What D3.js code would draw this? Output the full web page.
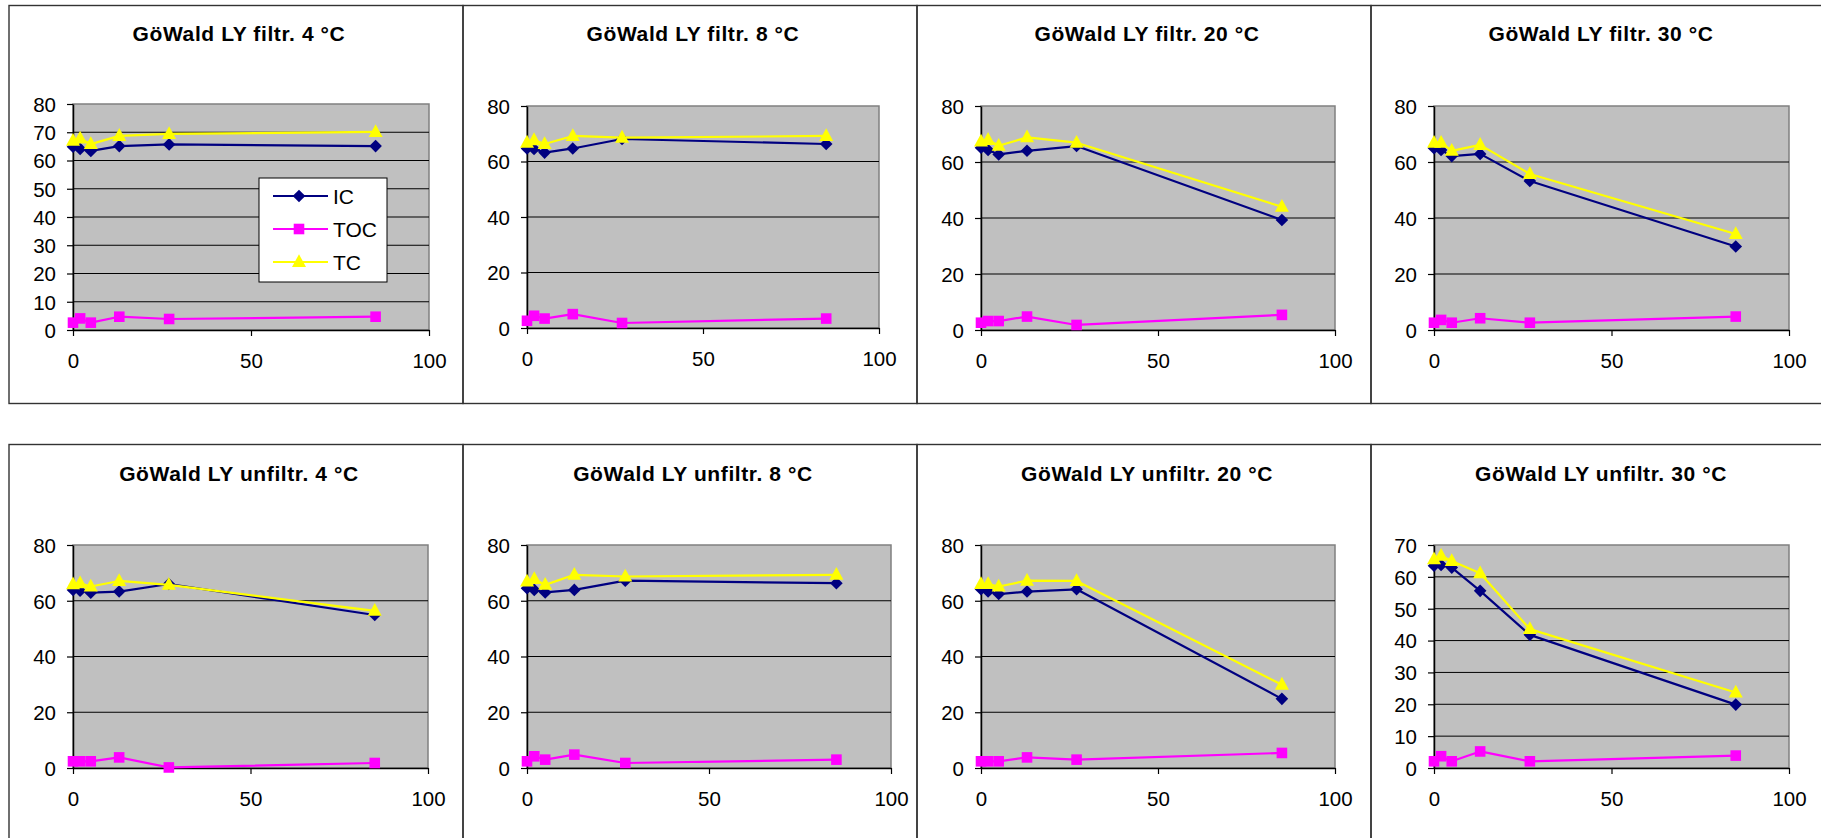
<!DOCTYPE html>
<html>
<head>
<meta charset="utf-8">
<script src="https://cdn.jsdelivr.net/npm/d3@7"></script>
<style>
  html, body { margin: 0; padding: 0; background: #ffffff; }
  svg { display: block; }
  text { font-family: "Liberation Sans", Arial, Helvetica, sans-serif; }
</style>
</head>
<body>
<svg id="chart" width="1821" height="838"></svg>
<script>
// Sampling days (x axis)
const days = [0, 2, 5, 13, 27, 85];

// Series names and colours
const seriesNames = ["IC", "TOC", "TC"];
const seriesColors = ["#000080", "#FF00FF", "#FFFF00"];

// Panel titles
const titles = [
  "GöWald LY filtr. 4 °C", "GöWald LY filtr. 8 °C", "GöWald LY filtr. 20 °C", "GöWald LY filtr. 30 °C",
  "GöWald LY unfiltr. 4 °C", "GöWald LY unfiltr. 8 °C", "GöWald LY unfiltr. 20 °C", "GöWald LY unfiltr. 30 °C"
];

// Y axis range and tick step per panel
const yMaxes = [80, 80, 80, 80, 80, 80, 80, 70];
const yTickSteps = [10, 20, 20, 20, 20, 20, 20, 10];
const xTicks = [0, 50, 100];

// Filtered samples
const icFiltr4  = [64.9, 64.1, 63.4, 65.1, 65.7, 65.1];
const tocFiltr4 = [2.6, 4.1, 2.6, 4.7, 3.9, 4.7];
const tcFiltr4  = [67.0, 67.8, 65.8, 68.7, 69.4, 70.1];

const icFiltr8  = [64.7, 64.5, 63.2, 64.7, 68.1, 66.3];
const tocFiltr8 = [2.6, 4.4, 3.4, 5.0, 1.8, 3.4];
const tcFiltr8  = [66.8, 67.7, 66.3, 69.2, 68.6, 69.2];

const icFiltr20  = [65.1, 64.3, 62.7, 64.0, 65.7, 39.3];
const tocFiltr20 = [2.6, 3.2, 3.2, 4.8, 1.8, 5.4];
const tcFiltr20  = [67.3, 67.9, 65.8, 68.8, 66.9, 44.0];

const icFiltr30  = [64.9, 64.3, 62.1, 62.9, 53.2, 29.8];
const tocFiltr30 = [2.6, 3.6, 2.6, 4.2, 2.6, 4.8];
const tcFiltr30  = [66.9, 66.9, 64.0, 66.1, 55.7, 34.3];

// Unfiltered samples
const icUnfiltr4  = [63.9, 63.6, 62.9, 63.3, 66.0, 54.9];
const tocUnfiltr4 = [2.4, 2.4, 2.4, 3.8, 0.2, 1.8];
const tcUnfiltr4  = [65.9, 66.3, 65.1, 67.1, 65.7, 56.4];

const icUnfiltr8  = [64.5, 63.9, 63.0, 63.9, 67.2, 66.3];
const tocUnfiltr8 = [2.4, 4.2, 3.0, 4.8, 1.8, 3.0];
const tcUnfiltr8  = [66.9, 67.8, 65.7, 69.3, 68.7, 69.3];

const icUnfiltr20  = [64.1, 63.3, 62.4, 63.3, 64.1, 24.8];
const tocUnfiltr20 = [2.4, 2.4, 2.4, 3.8, 3.0, 5.4];
const tcUnfiltr20  = [66.0, 66.0, 65.1, 67.2, 67.1, 29.9];

const icUnfiltr30  = [63.5, 63.7, 62.9, 55.6, 41.8, 19.9];
const tocUnfiltr30 = [2.1, 3.7, 2.1, 5.2, 2.1, 3.9];
const tcUnfiltr30  = [65.5, 66.6, 65.0, 61.1, 43.6, 23.7];

const panelSeries = [
  [icFiltr4, tocFiltr4, tcFiltr4],
  [icFiltr8, tocFiltr8, tcFiltr8],
  [icFiltr20, tocFiltr20, tcFiltr20],
  [icFiltr30, tocFiltr30, tcFiltr30],
  [icUnfiltr4, tocUnfiltr4, tcUnfiltr4],
  [icUnfiltr8, tocUnfiltr8, tcUnfiltr8],
  [icUnfiltr20, tocUnfiltr20, tcUnfiltr20],
  [icUnfiltr30, tocUnfiltr30, tcUnfiltr30]
];

// ---- layout ----
const frameX = [9, 463, 917, 1371, 1825];
const frameY = [5.5, 444.5];
const frameH = [398, 400];
const titleBaseline = [41, 481];
// plot rectangles [left, top, right, bottom]
const plotRects = [
  [73, 104, 429, 330], [527, 106, 879, 328], [981, 106, 1335, 330], [1434, 106, 1789, 330],
  [73, 545, 428, 768], [527, 545, 891, 768], [981, 545, 1335, 768], [1434, 545, 1789, 768]
];

const svg = d3.select("#chart");

// marker shapes
function markerPath(kind) {
  if (kind === 0) return "M0,-6.3L6.3,0L0,6.3L-6.3,0Z";          // diamond
  if (kind === 1) return "M-5.3,-5.3L5.3,-5.3L5.3,5.3L-5.3,5.3Z"; // square
  return "M0,-7.8L7,5L-7,5Z";                                     // triangle
}

// panel frames
titles.forEach((t, i) => {
  const row = Math.floor(i / 4), col = i % 4;
  svg.append("rect")
    .attr("x", frameX[col]).attr("y", frameY[row])
    .attr("width", frameX[col + 1] - frameX[col]).attr("height", frameH[row])
    .attr("fill", "none").attr("stroke", "#333").attr("stroke-width", 1.4);
});

titles.forEach((title, i) => {
  const row = Math.floor(i / 4), col = i % 4;
  const [pl, pt, pr, pb] = plotRects[i];
  const x = d3.scaleLinear().domain([0, 100]).range([pl, pr]);
  const y = d3.scaleLinear().domain([0, yMaxes[i]]).range([pb, pt]);
  const yTicks = d3.range(0, yMaxes[i] + 0.001, yTickSteps[i]);

  const g = svg.append("g");

  // title
  g.append("text")
    .attr("x", (frameX[col] + frameX[col + 1]) / 2 + 3)
    .attr("y", titleBaseline[row])
    .attr("text-anchor", "middle")
    .attr("font-size", 21).attr("font-weight", "bold")
    .attr("letter-spacing", 0.6)
    .attr("fill", "#000")
    .text(title);

  // plot area
  g.append("rect")
    .attr("x", pl).attr("y", pt).attr("width", pr - pl).attr("height", pb - pt)
    .attr("fill", "#C0C0C0").attr("stroke", "#808080").attr("stroke-width", 1.5);

  // gridlines
  g.append("g").selectAll("line")
    .data(yTicks.filter(v => v > 0 && v < yMaxes[i]))
    .join("line")
    .attr("x1", pl).attr("x2", pr)
    .attr("y1", d => y(d)).attr("y2", d => y(d))
    .attr("stroke", "#000").attr("stroke-width", 1);

  // axes
  const yAxis = g.append("g")
    .attr("transform", `translate(${pl},0)`)
    .call(d3.axisLeft(y).tickValues(yTicks).tickSize(6).tickSizeOuter(0).tickPadding(11).tickFormat(d3.format("d")));
  const xAxis = g.append("g")
    .attr("transform", `translate(0,${pb})`)
    .call(d3.axisBottom(x).tickValues(xTicks).tickSize(6).tickSizeOuter(0).tickFormat(d3.format("d")));

  [yAxis, xAxis].forEach(ax => {
    ax.select(".domain").attr("stroke", "#000").attr("stroke-width", 1.5);
    ax.selectAll(".tick line").attr("stroke", "#000").attr("stroke-width", 1.2);
    ax.selectAll(".tick text")
      .attr("font-family", "'Liberation Sans', Arial, sans-serif")
      .attr("font-size", 20.5).attr("fill", "#000");
  });
  yAxis.selectAll(".tick text").attr("dy", "0.36em");
  xAxis.selectAll(".tick text").attr("y", 38).attr("dy", 0);

  // series
  const line = d3.line().x((d, k) => x(days[k])).y(d => y(d));
  panelSeries[i].forEach((vals, s) => {
    g.append("path")
      .datum(vals)
      .attr("d", line)
      .attr("fill", "none")
      .attr("stroke", seriesColors[s])
      .attr("stroke-width", 2.2)
      .attr("stroke-linejoin", "round");
    g.append("g").selectAll("path")
      .data(vals)
      .join("path")
      .attr("transform", (d, k) => `translate(${x(days[k])},${y(d)})`)
      .attr("d", markerPath(s))
      .attr("fill", seriesColors[s]);
  });

  // legend (first panel only)
  if (i === 0) {
    const lg = g.append("g");
    lg.append("rect")
      .attr("x", 259).attr("y", 178).attr("width", 128).attr("height", 104)
      .attr("fill", "#fff").attr("stroke", "#000").attr("stroke-width", 1);
    seriesNames.forEach((name, s) => {
      const ly = 196 + s * 33;
      lg.append("line")
        .attr("x1", 273).attr("x2", 328).attr("y1", ly).attr("y2", ly)
        .attr("stroke", seriesColors[s]).attr("stroke-width", 2.2);
      lg.append("path")
        .attr("transform", `translate(299,${ly})`)
        .attr("d", markerPath(s))
        .attr("fill", seriesColors[s]);
      lg.append("text")
        .attr("x", 333).attr("y", ly).attr("dy", "0.36em")
        .attr("font-size", 21).attr("fill", "#000")
        .text(name);
    });
  }
});
</script>
</body>
</html>
